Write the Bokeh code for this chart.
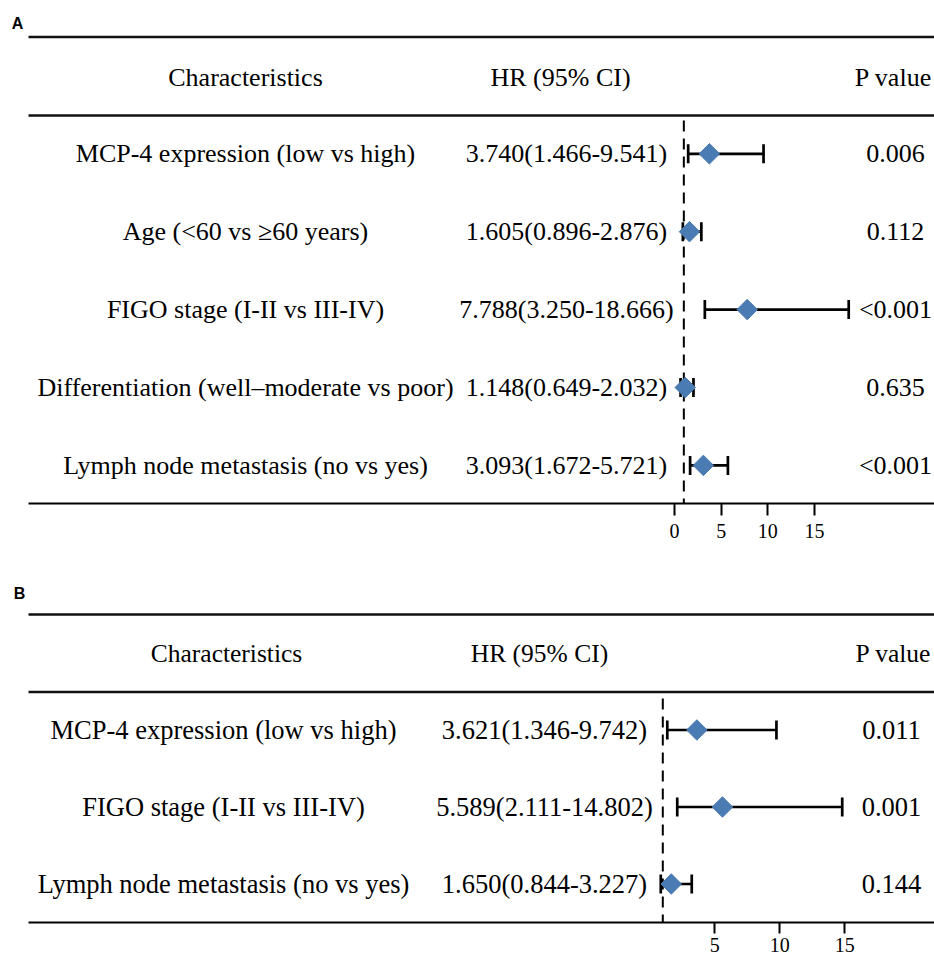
import numpy as np
from bokeh.plotting import figure
from bokeh.models import (Range1d, LinearAxis, FixedTicker, ColumnDataSource,
                          Whisker, TeeHead)
from bokeh.layouts import column
from bokeh.embed import file_html
from bokeh.resources import INLINE
from bokeh.core.properties import value

# ---------------- data ----------------
headers = ["Characteristics", "HR (95% CI)", "P value"]

a_labels = ["MCP-4 expression (low vs high)", "Age (<60 vs \u226560 years)",
            "FIGO stage (I-II vs III-IV)", "Differentiation (well\u2013moderate vs poor)",
            "Lymph node metastasis (no vs yes)"]
a_hr = [3.740, 1.605, 7.788, 1.148, 3.093]
a_lo = [1.466, 0.896, 3.250, 0.649, 1.672]
a_hi = [9.541, 2.876, 18.666, 2.032, 5.721]
a_p = ["0.006", "0.112", "<0.001", "0.635", "<0.001"]
a_ticks = [0, 5, 10, 15]

b_labels = ["MCP-4 expression (low vs high)", "FIGO stage (I-II vs III-IV)",
            "Lymph node metastasis (no vs yes)"]
b_hr = [3.621, 5.589, 1.650]
b_lo = [1.346, 2.111, 0.844]
b_hi = [9.742, 14.802, 3.227]
b_p = ["0.011", "0.001", "0.144"]
b_ticks = [5, 10, 15]

ref_line = 1.0
FONT = "Liberation Serif"
DIAMOND = "#4a7bb3"
W = 934


def panel(letter, labels, hr, lo, hi, pvals, ticks, cfg):
    zero, ppu = cfg["zero"], cfg["ppu"]
    x0 = (0 - zero) / ppu
    x1 = (W - zero) / ppu
    frame_h = cfg["y_axis"] - cfg["y_top"]
    p = figure(width=W, height=frame_h + cfg["border"],
               x_range=Range1d(x0, x1),
               y_range=Range1d(cfg["y_axis"], cfg["y_top"]),
               x_axis_type=None, y_axis_type=None, title=None,
               tools="", toolbar_location=None, output_backend="svg",
               min_border_left=0, min_border_right=0, min_border_top=0,
               min_border_bottom=cfg["border"], outline_line_color=None,
               background_fill_color="white", border_fill_color="white")
    p.extra_x_ranges = {"px": Range1d(0, W)}

    # horizontal rules
    p.segment(x0=[28, 28], x1=[W, W], y0=[cfg["rule_top"], cfg["rule_head"]],
              y1=[cfg["rule_top"], cfg["rule_head"]], x_range_name="px",
              line_color="#111111", line_width=2.5)

    # panel letter
    p.text(x=[cfg["letter_xy"][0]], y=[cfg["letter_xy"][1]], text=[letter],
           x_range_name="px", text_font=value("Liberation Sans"),
           text_font_style="bold", text_font_size="16px",
           text_align="center", text_baseline="middle", text_color="black")

    # headers
    p.text(x=cfg["head_x"], y=[cfg["header_y"]] * 3, text=headers,
           x_range_name="px", text_font=value(FONT), text_font_size=cfg["hfs"],
           text_align="center", text_baseline="middle", text_color="black")

    n = len(labels)
    ys = [cfg["row0"] + i * cfg["step"] for i in range(n)]
    hr_txt = [f"{h:.3f}({l:.3f}-{u:.3f})" for h, l, u in zip(hr, lo, hi)]
    src = ColumnDataSource(dict(y=ys, hr=hr, lo=lo, hi=hi, lab=labels,
                                hrt=hr_txt, p=pvals))

    for key, cx in zip(["lab", "hrt", "p"], cfg["col_x"]):
        p.text(x=cx, y="y", text=key, source=src, x_range_name="px",
               text_font=value(FONT), text_font_size=cfg["fs"],
               text_align="center", text_baseline="middle", text_color="black")

    # reference dashed line
    p.segment(x0=[ref_line], x1=[ref_line], y0=[cfg["dash_top"]], y1=[cfg["y_axis"]],
              line_color="black", line_width=2, line_dash="11 7")

    # CI whiskers
    w = Whisker(source=src, base="y", lower="lo", upper="hi", dimension="width",
                line_color="black", line_width=2.7, level="underlay",
                upper_head=TeeHead(size=19, line_width=2.7, line_color="black"),
                lower_head=TeeHead(size=19, line_width=2.7, line_color="black"))
    p.add_layout(w)

    # diamonds
    p.scatter(x="hr", y="y", source=src, marker="square", angle=np.pi / 4,
              size=14.5, fill_color=DIAMOND, line_color=DIAMOND)

    ax = LinearAxis(ticker=FixedTicker(ticks=ticks),
                    bounds=((28 - zero) / ppu, x1),
                    axis_line_color="black", axis_line_width=2,
                    major_tick_line_color="black", major_tick_line_width=2,
                    major_tick_out=cfg["tick_out"], major_tick_in=0,
                    minor_tick_out=0, minor_tick_in=0,
                    major_label_standoff=cfg["standoff"],
                    major_label_text_font=FONT,
                    major_label_text_font_size="20px",
                    major_label_text_color="black")
    p.add_layout(ax, "below")
    return p


cfg_a = dict(zero=674, ppu=9.333, y_top=0, y_axis=503, border=77,
             rule_top=36.5, rule_head=115, header_y=77, row0=153.3, step=77.9,
             dash_top=120, col_x=[245, 566, 895], head_x=[245, 560, 893],
             letter_xy=(17, 23), tick_out=12, standoff=8, fs="26px", hfs="26px")
cfg_b = dict(zero=649.3, ppu=13.0, y_top=580, y_axis=922, border=38,
             rule_top=614, rule_head=691.5, header_y=653, row0=729.5, step=77,
             dash_top=698, col_x=[223, 544, 891], head_x=[226, 539, 893],
             letter_xy=(19, 593), tick_out=11, standoff=4, fs="26.5px", hfs="25.5px")

pa = panel("A", a_labels, a_hr, a_lo, a_hi, a_p, a_ticks, cfg_a)
pb = panel("B", b_labels, b_hr, b_lo, b_hi, b_p, b_ticks, cfg_b)

layout = column(pa, pb, spacing=0)
open("out.html", "w").write(file_html(layout, INLINE))
